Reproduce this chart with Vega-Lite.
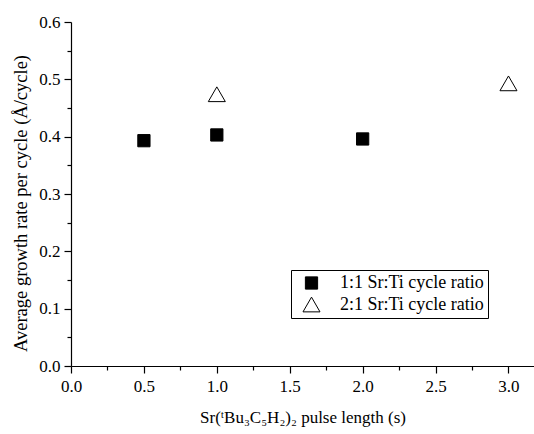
{
  "$schema": "https://vega.github.io/schema/vega-lite/v6.json",
  "autosize": "none",
  "width": 463,
  "height": 344,
  "padding": {"left": 71, "top": 22, "right": 0, "bottom": 68},
  "background": "white",
  "config": {
    "font": "Liberation Serif",
    "view": {"stroke": null},
    "legend": {"labelFont": "Liberation Serif", "labelFontSize": 18, "labelColor": "black"},
    "axis": {
      "domainColor": "black",
      "domainWidth": 1.2,
      "tickColor": "black",
      "tickWidth": 1.2,
      "grid": false,
      "labelFont": "Liberation Serif",
      "labelFontSize": 17,
      "labelColor": "black",
      "titleFont": "Liberation Serif",
      "titleFontWeight": "normal",
      "titleColor": "black"
    }
  },
  "data": {
    "values": [
      {"pulse": 0.5, "rate": 0.393, "series": "1:1 Sr:Ti cycle ratio"},
      {"pulse": 1.0, "rate": 0.403, "series": "1:1 Sr:Ti cycle ratio"},
      {"pulse": 2.0, "rate": 0.396, "series": "1:1 Sr:Ti cycle ratio"},
      {"pulse": 1.0, "rate": 0.474, "series": "2:1 Sr:Ti cycle ratio"},
      {"pulse": 3.0, "rate": 0.493, "series": "2:1 Sr:Ti cycle ratio"}
    ]
  },
  "mark": {"type": "point", "filled": true, "stroke": "black", "strokeWidth": 1, "opacity": 1},
  "encoding": {
    "x": {
      "field": "pulse",
      "type": "quantitative",
      "scale": {"domain": [0, 3.175], "nice": false, "zero": true},
      "axis": {
        "title": "Sr(ᵗBu₃C₅H₂)₂ pulse length (s)",
        "titleFontSize": 17,
        "values": [0, 0.25, 0.5, 0.75, 1, 1.25, 1.5, 1.75, 2, 2.25, 2.5, 2.75, 3],
        "labelExpr": "abs(datum.value*2 - round(datum.value*2)) < 0.001 ? format(datum.value, '.1f') : ''",
        "tickSize": {"condition": {"test": "abs(datum.value*2 - round(datum.value*2)) < 0.001", "value": 7}, "value": 4},
        "labelPadding": 5,
        "titlePadding": 15,
        "labelFlush": false,
        "labelOverlap": false
      }
    },
    "y": {
      "field": "rate",
      "type": "quantitative",
      "scale": {"domain": [0, 0.6], "nice": false},
      "axis": {
        "title": "Average growth rate per cycle (Å/cycle)",
        "titleFontSize": 18.5,
        "titleY": 181,
        "values": [0, 0.05, 0.1, 0.15, 0.2, 0.25, 0.3, 0.35, 0.4, 0.45, 0.5, 0.55, 0.6],
        "labelExpr": "abs(datum.value*10 - round(datum.value*10)) < 0.001 ? format(datum.value, '.1f') : ''",
        "tickSize": {"condition": {"test": "abs(datum.value*10 - round(datum.value*10)) < 0.001", "value": 7}, "value": 4},
        "labelPadding": 4,
        "titlePadding": 8,
        "labelFlush": false,
        "labelOverlap": false
      }
    },
    "shape": {
      "field": "series",
      "type": "nominal",
      "scale": {"range": ["square", "triangle-up"]},
      "legend": {
        "title": null,
        "orient": "none",
        "legendX": 220,
        "legendY": 248,
        "strokeColor": "black",
        "fillColor": "white",
        "padding": 4,
        "labelLimit": 300,
        "rowPadding": 3,
        "symbolOffset": 7,
        "labelOffset": 19,
        "symbolStrokeWidth": 1,
        "symbolStrokeColor": "black"
      }
    },
    "fill": {
      "field": "series",
      "type": "nominal",
      "scale": {"range": ["black", "white"]},
      "legend": {"title": null, "orient": "none", "legendX": 220, "legendY": 248}
    },
    "size": {
      "field": "series",
      "type": "nominal",
      "scale": {"range": [150, 290]},
      "legend": {"title": null, "orient": "none", "legendX": 220, "legendY": 248}
    }
  }
}
